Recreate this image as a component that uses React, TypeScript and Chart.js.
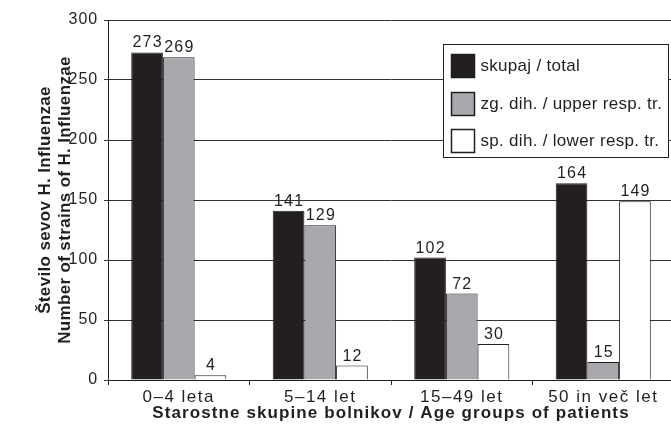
import React, { useEffect, useRef } from 'react';
import { Chart, registerables } from 'chart.js';

Chart.register(...registerables);

const categories = ['0–4 leta', '5–14 let', '15–49 let', '50 in več let'];
const totalValues = [273, 141, 102, 164];
const upperValues = [269, 129, 72, 15];
const lowerValues = [4, 12, 30, 149];
const seriesLabels = ['skupaj / total', 'zg. dih. / upper resp. tr.', 'sp. dih. / lower resp. tr.'];
const seriesColors = ['#231f20', '#a7a9ac', '#ffffff'];
const yMin = 0;
const yMax = 300;
const yStep = 50;
const yTitle = ['Število sevov H. Influenzae', 'Number of strains of H. Influenzae'];
const xTitle = 'Starostne skupine bolnikov / Age groups of patients';

const FONT = "'Liberation Sans', Arial, Helvetica, sans-serif";
const INK = '#231f20';

function withSpacing(scale: any, method: string, px: number) {
  const key = '_ls_' + method;
  if (scale[key]) return;
  const orig = scale[method];
  scale[method] = function (...args: any[]) {
    const ctx = this.ctx;
    const prev = ctx.letterSpacing;
    ctx.letterSpacing = px + 'px';
    try {
      return orig.apply(this, args);
    } finally {
      ctx.letterSpacing = prev;
    }
  };
  scale[key] = true;
}

const dataLabelPlugin = {
  id: 'dataLabels',
  afterDatasetsDraw(chart: any) {
    const ctx = chart.ctx;
    ctx.save();
    ctx.font = `16px ${FONT}`;
    ctx.letterSpacing = '1.2px';
    ctx.fillStyle = INK;
    ctx.textAlign = 'center';
    ctx.textBaseline = 'alphabetic';
    chart.data.datasets.forEach((ds: any, di: number) => {
      const meta = chart.getDatasetMeta(di);
      meta.data.forEach((el: any, i: number) => {
        ctx.fillText(String(ds.data[i]), el.x + 0.6, el.y - 5);
      });
    });
    ctx.restore();
  },
};

const legendBoxPlugin = {
  id: 'legendBox',
  afterDraw(chart: any) {
    const ctx = chart.ctx;
    const area = chart.chartArea;
    const w = 225;
    const h = 113;
    const x0 = Math.round(area.right - 231) + 0.5;
    const y0 = Math.round(area.top + 24) + 0.5;
    ctx.save();
    ctx.fillStyle = '#ffffff';
    ctx.fillRect(x0, y0, w, h);
    ctx.strokeStyle = INK;
    ctx.lineWidth = 1;
    ctx.strokeRect(x0, y0, w, h);
    chart.data.datasets.forEach((ds: any, i: number) => {
      const cy = y0 + 21 + i * 37.5;
      const sx = x0 + 8;
      const sy = Math.round(cy - 11.5) + 0.5;
      ctx.fillStyle = ds.backgroundColor;
      ctx.fillRect(sx, sy, 23, 23);
      ctx.strokeStyle = INK;
      ctx.lineWidth = 1.5;
      ctx.strokeRect(sx, sy, 23, 23);
      ctx.fillStyle = INK;
      ctx.font = `17px ${FONT}`;
      ctx.letterSpacing = '0.3px';
      ctx.textAlign = 'left';
      ctx.textBaseline = 'middle';
      ctx.fillText(ds.label, x0 + 37, cy + 1);
    });
    ctx.restore();
  },
};

export default function App() {
  const ref = useRef<HTMLCanvasElement | null>(null);

  useEffect(() => {
    if (!ref.current) return;
    const chart = new Chart(ref.current, {
      type: 'bar',
      data: {
        labels: categories,
        datasets: [totalValues, upperValues, lowerValues].map((vals, i) => ({
          label: seriesLabels[i],
          data: vals,
          backgroundColor: seriesColors[i],
          borderColor: INK,
          borderWidth: 1,
          categoryPercentage: 0.672,
          barPercentage: 1,
        })),
      },
      options: {
        responsive: false,
        animation: false,
        devicePixelRatio: 1,
        layout: { padding: { left: 0, top: 20, right: 6, bottom: 0 } },
        plugins: {
          legend: { display: false },
          tooltip: { enabled: false },
        },
        scales: {
          x: {
            afterFit(scale: any) {
              scale.height = 49;
            },
            afterUpdate(scale: any) {
              withSpacing(scale, 'drawLabels', 1.5);
              withSpacing(scale, 'drawTitle', 1.1);
            },
            grid: {
              offset: true,
              drawOnChartArea: false,
              drawTicks: true,
              tickLength: 5,
              color: INK,
            },
            border: { display: true, color: INK, width: 1 },
            ticks: {
              color: INK,
              font: { family: FONT, size: 17 },
              padding: 2,
            },
            title: {
              display: true,
              text: xTitle,
              color: INK,
              font: { family: FONT, size: 17, weight: 'bold' },
              padding: { top: 0, bottom: 5 },
            },
          },
          y: {
            min: yMin,
            max: yMax,
            afterFit(scale: any) {
              scale.width = 108;
            },
            afterUpdate(scale: any) {
              withSpacing(scale, 'drawLabels', 0.9);
              withSpacing(scale, 'drawTitle', 0.35);
            },
            grid: {
              color: '#333333',
              drawTicks: true,
              tickLength: 4,
            },
            border: { display: true, color: INK, width: 1 },
            ticks: {
              stepSize: yStep,
              color: INK,
              font: { family: FONT, size: 16 },
              padding: 6,
            },
            title: {
              display: true,
              text: yTitle,
              color: INK,
              font: { family: FONT, size: 17, weight: 'bold' },
              padding: { top: 35, bottom: 0 },
            },
          },
        },
      },
      plugins: [dataLabelPlugin, legendBoxPlugin],
    } as any);
    return () => chart.destroy();
  }, []);

  return (
    <div
      style={{
        position: 'fixed',
        left: 0,
        top: 0,
        width: 671,
        height: 429,
        overflow: 'hidden',
        background: '#ffffff',
      }}
    >
      <canvas ref={ref} width={680} height={429} style={{ display: 'block', width: 680, height: 429 }} />
    </div>
  );
}
